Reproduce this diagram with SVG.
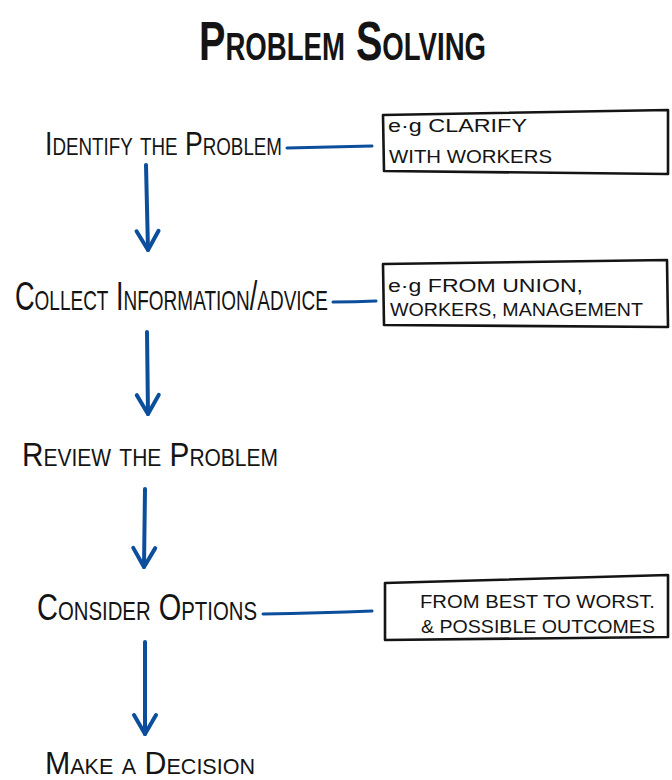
<svg xmlns="http://www.w3.org/2000/svg" width="672" height="780" viewBox="0 0 672 780">
<defs>
<style>
.t{font-family:"Liberation Sans","DejaVu Sans",sans-serif;fill:#141414;font-variant:small-caps;}
.box{fill:#fff;stroke:#141414;stroke-width:2.6;stroke-linejoin:round;}
.bt{font-family:"Liberation Sans","DejaVu Sans",sans-serif;fill:#141414;font-size:18px;}
.arr{fill:none;stroke:#0b4f9c;stroke-width:4;stroke-linecap:round;marker-end:url(#ah);}
.ln{fill:none;stroke:#0b4f9c;stroke-width:3;stroke-linecap:round;}
</style>
<marker id="ah" markerUnits="userSpaceOnUse" viewBox="-22 -14 26 28" refX="0" refY="0" markerWidth="26" markerHeight="28" orient="auto">
<path d="M-19,-11 L0,0 L-19,11" fill="none" stroke="#0b4f9c" stroke-width="4" stroke-linecap="round" stroke-linejoin="round"/>
</marker>
</defs>
<rect width="672" height="780" fill="#fff"/>

<g id="title">
<text class="t" x="199" y="60" font-size="56" font-weight="bold" textLength="287" lengthAdjust="spacingAndGlyphs"><tspan>Problem</tspan> <tspan>Solving</tspan></text>
</g>

<g id="connectors">
<path class="arr" d="M146,165 L148,250"/>
<path class="arr" d="M147,332 L148,414"/>
<path class="arr" d="M145,489 L144,567"/>
<path class="arr" d="M145,642 L145,734"/>
<path class="ln" d="M287,148 Q330,147 372,146"/>
<path class="ln" d="M333,302 Q355,302 376,301"/>
<path class="ln" d="M263,614 Q320,613 372,611"/>
</g>

<g id="identify">
<text class="t" x="45" y="155" font-size="34" textLength="237" lengthAdjust="spacingAndGlyphs"><tspan>Identify</tspan> <tspan>the</tspan> <tspan>Problem</tspan></text>
</g>
<g id="note-clarify">
<path class="box" d="M383,115 L668,110 L668,174 L384,171 Z"/>
<text class="bt" x="388" y="132" textLength="139" lengthAdjust="spacingAndGlyphs"><tspan>e·g</tspan> <tspan>CLARIFY</tspan></text>
<text class="bt" x="389" y="163" textLength="163" lengthAdjust="spacingAndGlyphs"><tspan>WITH</tspan> <tspan>WORKERS</tspan></text>
</g>

<g id="collect">
<text class="t" x="15" y="310" font-size="40" textLength="313" lengthAdjust="spacingAndGlyphs"><tspan>Collect</tspan> <tspan>Information/advice</tspan></text>
</g>
<g id="note-union">
<path class="box" d="M383,264 L667,260 L668,327 L384,325 Z"/>
<text class="bt" x="388" y="292" textLength="195" lengthAdjust="spacingAndGlyphs"><tspan>e·g</tspan> <tspan>FROM</tspan> <tspan>UNION,</tspan></text>
<text class="bt" x="390" y="316" textLength="253" lengthAdjust="spacingAndGlyphs"><tspan>WORKERS,</tspan> <tspan>MANAGEMENT</tspan></text>
</g>

<g id="review">
<text class="t" x="22" y="466" font-size="34" textLength="256" lengthAdjust="spacingAndGlyphs"><tspan>Review</tspan> <tspan>the</tspan> <tspan>Problem</tspan></text>
</g>

<g id="consider">
<text class="t" x="37" y="620" font-size="37" textLength="220" lengthAdjust="spacingAndGlyphs"><tspan>Consider</tspan> <tspan>Options</tspan></text>
</g>
<g id="note-options">
<path class="box" d="M385,583 L668,575 L668,637 L385,640 Z"/>
<text class="bt" x="420" y="608" textLength="235" lengthAdjust="spacingAndGlyphs"><tspan>FROM</tspan> <tspan>BEST</tspan> <tspan>TO</tspan> <tspan>WORST.</tspan></text>
<text class="bt" x="421" y="633" textLength="234" lengthAdjust="spacingAndGlyphs"><tspan>&amp;</tspan> <tspan>POSSIBLE</tspan> <tspan>OUTCOMES</tspan></text>
</g>

<g id="decision">
<text class="t" x="45" y="774" font-size="31" textLength="210" lengthAdjust="spacingAndGlyphs"><tspan>Make</tspan> <tspan>a</tspan> <tspan>Decision</tspan></text>
</g>
</svg>
